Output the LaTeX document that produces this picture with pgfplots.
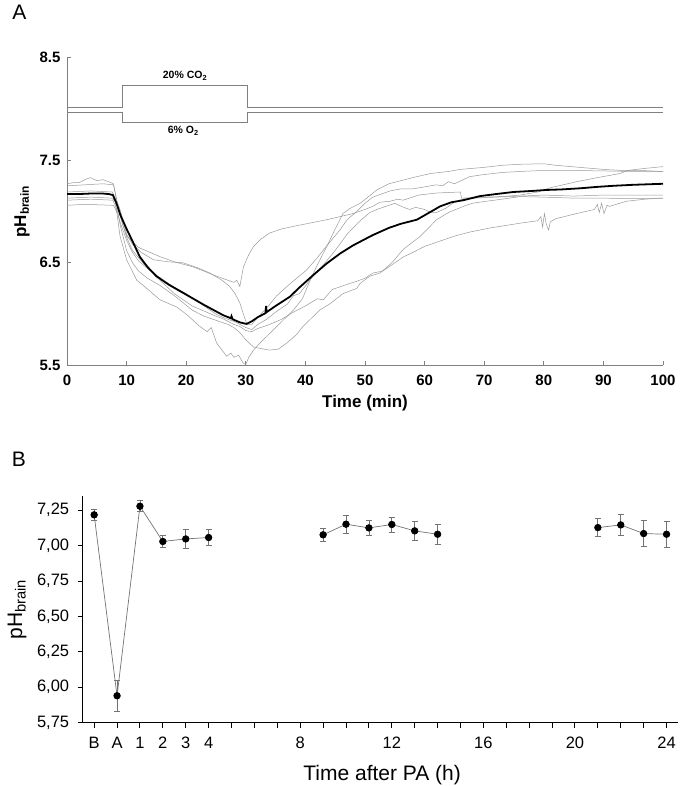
\documentclass[border=0pt]{standalone}
\usepackage{pgfplots}
\pgfplotsset{compat=1.18}
\usepackage{fontspec}
\setmainfont{Liberation Sans}
\begin{document}
\begin{tikzpicture}
\path[use as bounding box] (0,0) rectangle (680bp,786bp);
\node[font=\fontsize{21bp}{24bp}\selectfont, inner sep=0pt] at (19.5bp,773.5bp) {A};
\node[font=\fontsize{21bp}{24bp}\selectfont, inner sep=0pt] at (19bp,326.5bp) {B};
% ---------------- Panel A ----------------
\begin{axis}[
  at={(67bp,420.5bp)}, anchor=south west, scale only axis,
  width=596bp, height=308bp,
  xmin=0, xmax=100, ymin=5.5, ymax=8.5,
  axis x line*=bottom, axis y line*=left,
  axis line style={draw=black!50, line width=0.8bp},
  every tick/.style={draw=black!50, line width=0.8bp},
  tick align=inside, major tick length=4bp,
  xtick={0,10,...,100}, ytick={5.5,6.5,7.5,8.5},
  yticklabel style={/pgf/number format/.cd, fixed, fixed zerofill, precision=1},
  /pgf/number format/assume math mode=true,
  ticklabel style={font=\fontsize{15bp}{18bp}\selectfont\bfseries},
  xticklabel shift=6bp, yticklabel shift=3bp,
  xlabel={Time (min)}, ylabel={pH\textsubscript{brain}},
  label style={font=\fontsize{17bp}{20bp}\selectfont\bfseries},
  xlabel style={at={(axis description cs:0.5,-0.1234)}, anchor=center},
  ylabel style={at={(axis description cs:-0.0755,0.5)}, anchor=center},
  clip=false,
]
% gas box
\addplot[black!50, line width=0.7bp] coordinates {(0,8.011) (9.23,8.011) (9.23,8.227) (30.2,8.227) (30.2,8.011) (100,8.011)};
\addplot[black!50, line width=0.7bp] coordinates {(0,7.962) (9.23,7.962) (9.23,7.873) (30.2,7.873) (30.2,7.962) (100,7.962)};
\node[font=\fontsize{10.5bp}{12bp}\selectfont\bfseries] at (axis cs:19.8,8.32) {20\% CO\textsubscript{2}};
\node[font=\fontsize{10.5bp}{12bp}\selectfont\bfseries] at (axis cs:19.5,7.786) {6\% O\textsubscript{2}};
% individual animals
\addplot[black!40, line width=0.5bp] coordinates {
(0,7.27) (1,7.28) (2,7.28) (3,7.31) (3.9,7.33) (5,7.30) (6,7.31) (7,7.29) (7.8,7.27) (8.5,7.05) (9.3,6.88) (10,6.76) (12,6.65) (15.6,6.56) (18,6.51) (21.2,6.46) (25.1,6.37) (27,6.33) (28,6.31) (28.5,6.33) (29,6.27) (29.6,6.46) (30.5,6.58) (31.3,6.66) (32.5,6.73) (34,6.79) (36,6.83) (38,6.855) (41,6.89) (43.6,6.92) (45.8,6.95) (48,6.98) (50,7.02) (51.3,7.05) (52.5,7.09) (54.2,7.10) (55.5,7.12) (56.4,7.11) (59,7.16) (62,7.18) (66,7.19) (66.2,7.13) (70,7.14) (73,7.145) (76,7.16) (79,7.19) (81,7.23) (85.5,7.29) (89,7.33) (92.8,7.37) (94,7.40) (97,7.42) (100,7.437)};
\addplot[black!40, line width=0.5bp] coordinates {
(0,7.13) (4,7.14) (7.5,7.13) (8.1,7.10) (8.9,6.76) (10,6.53) (11.7,6.33) (12.8,6.28) (15.6,6.14) (18.4,6.07) (20,6.0) (22.3,5.88) (23.5,5.83) (24.2,5.87) (25.1,5.72) (26,5.65) (26.8,5.59) (27.5,5.62) (28,5.58) (28.8,5.60) (29.3,5.55) (29.6,5.52) (30,5.51) (30.5,5.58) (31.3,5.65) (32.4,5.72) (35.2,5.88) (38,6.04) (39.5,6.15) (40.8,6.33) (42,6.48) (43.6,6.66) (45,6.83) (46.3,6.98) (47.5,7.03) (49.2,7.08) (52,7.21) (54,7.27) (56,7.30) (58,7.33) (61,7.37) (64,7.39) (66,7.41) (70,7.43) (73,7.45) (76,7.46) (80,7.465) (82,7.45) (84,7.44) (86,7.43) (90,7.41) (93,7.40) (96,7.40) (100,7.39)};
\addplot[black!40, line width=0.5bp] coordinates {
(0,7.25) (3,7.26) (6,7.27) (7.8,7.26) (8.4,7.10) (9,7.0) (10,6.78) (11,6.68) (12.5,6.60) (14.5,6.53) (17,6.51) (19.5,6.50) (22,6.45) (24,6.40) (26,6.33) (27.3,6.27) (28.2,6.20) (29,6.11) (29.6,6.0) (30.2,5.90) (31,5.90) (32,5.97) (33.5,6.06) (35.2,6.18) (37.5,6.30) (40.2,6.43) (42,6.55) (43.5,6.66) (45.8,6.82) (47,6.92) (48.6,7.0) (50,7.08) (51.3,7.14) (54.2,7.20) (56,7.22) (58,7.22) (60,7.24) (62,7.26) (63,7.25) (64,7.29) (65,7.27) (67.6,7.34) (70,7.36) (73,7.38) (76,7.39) (80,7.40) (85,7.40) (90,7.395) (95,7.39) (100,7.39)};
\addplot[black!40, line width=0.5bp] coordinates {
(0,7.11) (4,7.12) (7.7,7.11) (8.5,7.0) (9,6.85) (10,6.62) (11,6.50) (12,6.42) (13.5,6.35) (15.6,6.28) (18,6.18) (21,6.04) (23,5.98) (25,5.94) (27,5.90) (28,5.87) (29,5.82) (30,5.75) (31.3,5.68) (33,5.66) (34,5.65) (35.5,5.66) (36.9,5.72) (38.5,5.80) (39.6,5.88) (41,5.96) (42.4,6.04) (44.1,6.10) (46.3,6.20) (48.6,6.25) (49.2,6.30) (50.8,6.37) (52.5,6.40) (54.5,6.50) (56.4,6.63) (57.5,6.68) (59.2,6.755) (60.5,6.83) (62,6.92) (64,6.99) (66.5,7.05) (68,7.08) (70.4,7.10) (73,7.12) (76,7.145) (80,7.14) (85,7.13) (90,7.13) (95,7.125) (100,7.13)};
\addplot[black!40, line width=0.5bp] coordinates {
(0,7.06) (3,7.07) (7.8,7.06) (8.5,6.98) (9,6.88) (10,6.72) (11,6.60) (12,6.52) (14,6.42) (15.6,6.33) (18,6.20) (21,6.08) (23,6.03) (25,5.98) (26,5.96) (27,5.93) (28,5.90) (29,5.88) (30,5.84) (31,5.83) (32,5.86) (34,5.90) (36,5.95) (38,6.02) (40,6.08) (42,6.15) (43,6.14) (44.5,6.24) (46,6.27) (47.5,6.30) (48.6,6.32) (50,6.35) (51.3,6.40) (53,6.42) (55,6.50) (56.5,6.56) (58,6.60) (60,6.66) (62,6.70) (65,6.76) (67.6,6.80) (71,6.84) (74.3,6.87) (76,6.886) (79,6.91) (79.5,6.95) (79.8,6.85) (80.1,6.98) (80.4,6.88) (80.8,6.82) (81.1,6.90) (82,6.93) (85.5,6.98) (88.5,7.02) (89,7.07) (89.3,6.99) (89.7,7.08) (90.1,6.98) (90.6,7.06) (91,7.05) (93.9,7.10) (97,7.12) (100,7.13)};
\addplot[black!40, line width=0.5bp] coordinates {
(0,7.19) (4,7.20) (7.6,7.19) (8.3,7.10) (9,6.95) (10,6.75) (11,6.62) (12,6.55) (13.5,6.45) (15,6.38) (17.5,6.28) (20,6.20) (22.5,6.10) (25,6.0) (26.5,5.96) (28,5.93) (29,5.90) (30,5.87) (31,5.85) (32,5.90) (33.5,5.95) (35,6.02) (37,6.10) (38,6.18) (39,6.20) (41,6.35) (43,6.48) (45,6.62) (47,6.78) (49,6.90) (50.8,6.99) (52,7.02) (53.5,7.05) (55,7.08) (56.5,7.04) (57.5,7.02) (58.5,7.04) (60,7.02) (61,6.99) (62,6.99) (63.5,7.03) (65,7.09) (66.5,7.12) (68,7.13) (72,7.14) (76,7.15) (80,7.16) (85,7.15) (90,7.16) (95,7.16) (100,7.16)};
% mean
\addplot[black, line width=1.8bp] coordinates {
(0,7.17) (2,7.17) (4,7.175) (6,7.175) (7,7.17) (7.7,7.16) (8.3,7.08) (9,6.96) (10,6.83) (11,6.71) (12.2,6.56) (13.5,6.46) (15,6.37) (17,6.29) (20.6,6.17) (23,6.09) (26.2,5.99) (27.5,5.96) (27.6,5.98) (27.8,5.95) (29,5.92) (30.1,5.905) (31,5.93) (32,5.97) (33.3,6.01) (33.4,6.08) (33.5,6.02) (35,6.08) (37.4,6.17) (39,6.26) (41.3,6.38) (43.5,6.49) (45.8,6.59) (48,6.67) (51.3,6.77) (54,6.84) (56,6.88) (58.7,6.92) (60.5,6.98) (62.6,7.05) (64.5,7.09) (66.5,7.11) (69.3,7.15) (72,7.17) (74.9,7.19) (78,7.20) (80.5,7.21) (83,7.215) (86.1,7.226) (89,7.24) (91.6,7.25) (95,7.26) (100,7.27)};
\end{axis}
% ---------------- Panel B ----------------
\begin{axis}[
  at={(82.7bp,63.3bp)}, anchor=south west, scale only axis,
  width=595.3bp, height=226.7bp,
  xmin=-1.5, xmax=24.5, ymin=5.75, ymax=7.35,
  axis x line*=bottom, axis y line*=left,
  axis line style={draw=black, line width=1.2bp},
  every tick/.style={draw=black, line width=1bp},
  tick align=outside, major tick length=5bp,
  xtick={-1,0,...,24},
  xticklabels={B,A,1,2,3,4,{},{},{},8,{},{},{},12,{},{},{},16,{},{},{},20,{},{},{},24},
  ytick={5.75,6.00,6.25,6.50,6.75,7.00,7.25},
  yticklabel style={/pgf/number format/.cd, fixed, fixed zerofill, precision=2, use comma},
  /pgf/number format/assume math mode=true,
  ticklabel style={font=\fontsize{16.5bp}{19bp}\selectfont},
  xticklabel shift=6bp, yticklabel shift=5bp,
  xlabel={Time after PA (h)}, ylabel={pH\textsubscript{brain}},
  label style={font=\fontsize{21bp}{24bp}\selectfont},
  xlabel style={at={(axis description cs:0.503,-0.23)}, anchor=center},
  ylabel style={at={(axis description cs:-0.1104,0.5)}, anchor=center},
  clip=false,
]
\pgfplotsset{pbstyle/.style={draw=black!55, line width=0.7bp, mark=*, mark size=3.3bp,
  mark options={fill=black, draw=black, solid},
  error bars/.cd, y dir=both, y explicit,
  error bar style={draw=black!55, line width=0.8bp},
  error mark options={rotate=90, mark size=3bp, draw=black!55, line width=0.8bp}}}
\addplot[pbstyle] table[x=x, y=y, y error=e] {
x y e
-1 7.217 0.037
0 5.94 0.11
1 7.278 0.04
2 7.029 0.043
3 7.047 0.07
4 7.057 0.055
};
\addplot[pbstyle] table[x=x, y=y, y error=e] {
x y e
9 7.076 0.045
10 7.151 0.065
11 7.125 0.055
12 7.149 0.053
13 7.104 0.064
14 7.08 0.07
};
\addplot[pbstyle] table[x=x, y=y, y error=e] {
x y e
21 7.127 0.064
22 7.146 0.075
23 7.085 0.094
24 7.08 0.094
};
\end{axis}
\end{tikzpicture}
\end{document}
